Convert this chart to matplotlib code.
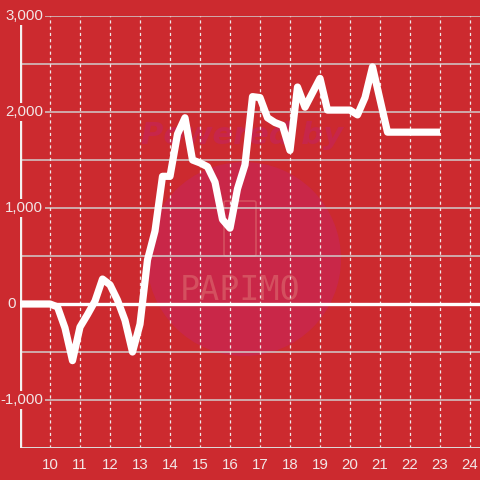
import matplotlib
matplotlib.use("Agg")
import matplotlib.pyplot as plt
from matplotlib.patches import Circle, FancyBboxPatch
from matplotlib.lines import Line2D

# ---- data ----
hours = [9.0, 10.0, 10.25, 10.5, 10.75, 11.0, 11.25, 11.5, 11.75, 12.0, 12.25, 12.5,
         12.75, 13.0, 13.25, 13.5, 13.75, 14.0, 14.25, 14.5, 14.75, 15.0, 15.25, 15.5,
         15.75, 16.0, 16.25, 16.5, 16.75, 17.0, 17.25, 17.5, 17.75, 18.0, 18.25, 18.5,
         18.75, 19.0, 19.25, 19.5, 19.75, 20.0, 20.25, 20.5, 20.75, 21.0, 21.25, 21.5,
         22.0, 22.5, 23.0]
values = [0, 0, -30, -250, -590, -240, -110, 30, 260, 200, 40, -170,
          -500, -210, 460, 760, 1330, 1330, 1770, 1940, 1500, 1470, 1430, 1270,
          880, 790, 1200, 1450, 2160, 2150, 1940, 1890, 1860, 1600, 2260, 2050,
          2200, 2350, 2020, 2020, 2020, 2020, 1970, 2150, 2470, 2130, 1790, 1790,
          1790, 1790, 1790]
x_ticks = [10, 11, 12, 13, 14, 15, 16, 17, 18, 19, 20, 21, 22, 23, 24]
y_ticks = [-1000, 0, 1000, 2000, 3000]
y_tick_labels = ["-1,000", "0", "1,000", "2,000", "3,000"]
y_grid = [-1500, -1000, -500, 0, 500, 1000, 1500, 2000, 2500, 3000]

BG = "#CC2A2F"
TXT = "#F2E6E6"

fig = plt.figure(figsize=(4.8, 4.8), dpi=100)
fig.patch.set_facecolor(BG)
ax = fig.add_axes([20/480, 32/480, 460/480, 432/480])
ax.set_facecolor("none")
ax.set_zorder(2)
ax.set_xlim(9, 9 + 460/30)
ax.set_ylim(-1500, 3000)
for s in ax.spines.values():
    s.set_visible(False)
ax.set_xticks([])
ax.set_yticks([])

# watermark (behind the axes)
fig.patches.append(Circle((244/480, 1 - 259/480), 97/480, transform=fig.transFigure,
                          facecolor="#C92748", edgecolor="none", zorder=0))
fig.patches.append(FancyBboxPatch((224/480, 1 - 256/480), 32/480, 55/480,
                                  boxstyle="round,pad=0,rounding_size=0.004",
                                  transform=fig.transFigure, facecolor="none",
                                  edgecolor="#D4505F", lw=1.2, zorder=0.5))
fig.text(242/480, 1 - 136/480, "Powered by", color="#C7264A", fontsize=22,
         fontweight="bold", style="italic", ha="center", va="center", zorder=0.5)
fig.text(240/480, 1 - 290/480, "PAPIMO", color="#D4505F", fontsize=24,
         ha="center", va="center", zorder=0.5, family="DejaVu Sans Mono")

# grid
for g in y_grid:
    if g == 0:
        continue
    ax.axhline(g, color="#D0CCCC", lw=1.1, zorder=1)
for t in x_ticks:
    ax.axvline(t, color="#F0E8E8", lw=0.9, ls=(0, (2.5, 2.5)), zorder=1)
ax.axhline(-1500, color="#DDDADA", lw=1.4, zorder=1.5)
ax.axhline(0, color="white", lw=2.4, zorder=2)

# left axis line
ax.add_artist(Line2D([20/480, 20/480], [1 - 448/480, 1 - 24/480], color="#F4F0F0",
                     lw=2.4, transform=fig.transFigure, zorder=2))

# data line
ax.plot(hours, values, color="white", lw=5.2, solid_joinstyle="round",
        solid_capstyle="butt", zorder=3)

# tick labels
for v, lab in zip(y_ticks, y_tick_labels):
    if v == 0:
        ax.text(-4/460, v, lab, transform=ax.get_yaxis_transform(),
                ha="right", va="center", color=TXT, fontsize=10.8,
                family="Liberation Sans", zorder=4, clip_on=False)
    else:
        ax.text(23/460, v, lab, transform=ax.get_yaxis_transform(),
                ha="right", va="center", color=TXT, fontsize=10.8,
                family="Liberation Sans", zorder=4, clip_on=False,
                bbox=dict(facecolor=BG, edgecolor="none", pad=1.5))
for t in x_ticks:
    ax.text(t, -0.04, str(t), transform=ax.get_xaxis_transform(), ha="center",
            va="center", color=TXT, fontsize=10.8, family="Liberation Sans",
            clip_on=False)

fig.savefig("out.png", dpi=100, facecolor=BG)
